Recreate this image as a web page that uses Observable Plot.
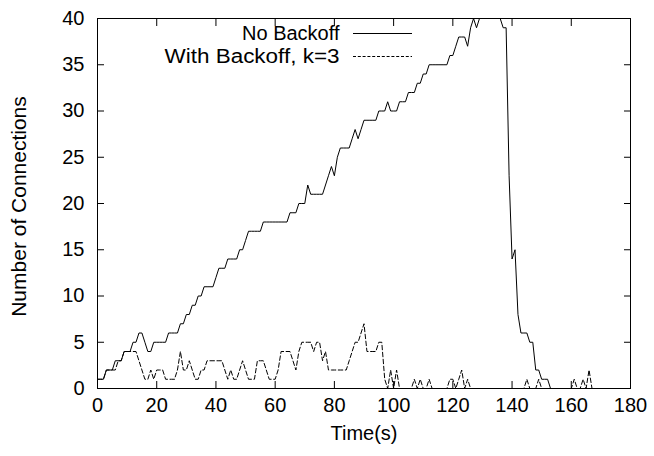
<!DOCTYPE html>
<html><head><meta charset="utf-8">
<script src="https://cdn.jsdelivr.net/npm/d3@7"></script>
<script src="https://cdn.jsdelivr.net/npm/@observablehq/plot@0.6"></script>
<style>html,body{margin:0;padding:0;background:#fff}</style>
</head><body><div id="chart"></div>
<script>
// Number of connections sampled once per second (index = time in s)
const noBackoff = [
  1,1,1,2,2,2,3,3,3,4, 4,4,5,5,6,6,5,4,4,5,
  5,5,5,5,6,6,6,6,7,7, 8,8,9,9,10,10,11,11,11,11,
  12,13,13,13,14,14,14,14,15,15, 16,17,17,17,17,17,18,18,18,18,
  18,18,18,18,18,19,19,19,20,20, 20,22,21,21,21,21,21,22,23,24,
  23,25,26,26,26,26,27,28,27,28, 29,29,29,29,29,30,30,30,31,30,
  30,30,31,31,31,32,32,32,33,33, 34,34,35,35,35,35,35,35,35,36,
  36,37,38,38,38,37,39,40,39,40, 40,40,40,40,40,40,40,39,39,23,
  14,15,8,6,6,6,5,5,2,2, 1,1,1,0
];
const withBackoff = [
  1,1,1,2,2,2,2,3,3,4, 4,4,4,4,3,2,1,1,2,1,
  2,2,2,1,1,1,1,2,4,2, 2,3,2,1,1,2,2,3,3,3,
  3,3,3,2,1,2,1,1,2,3, 2,1,1,1,3,3,3,2,1,1,
  1,2,4,4,4,4,3,2,4,5, 5,5,5,4,5,5,3,4,2,2,
  2,2,2,2,2,3,4,5,5,6, 7,4,4,4,4,5,5,1,0,2,
  0,2,0,0,0,0,0,1,0,1, 0,0,1,0,0,0,0,0,0,1,
  1,0,1,2,0,1,0,0,0,0, 0,0,0,0,0,0,0,0,0,0,
  0,0,0,0,0,1,0,0,0,1, 0,0,0,0,0,0,0,0,0,0,
  0,1,0,0,1,0,2,0,0
];
const seriesNames = ["No Backoff", "With Backoff, k=3"];
const xTicks = [0,20,40,60,80,100,120,140,160,180];
const yTicks = [0,5,10,15,20,25,30,35,40];
const xDomain = [0,180];
const yDomain = [0,40];
const xLabel = "Time(s)";
const yLabel = "Number of Connections";

const noData = noBackoff.map((v,i)=>({t:i, v}));
const withData = withBackoff.map((v,i)=>({t:i, v}));

const font = "'Liberation Sans', Arial, Helvetica, sans-serif";
const fs = 20;
const chart = Plot.plot({
  width: 654, height: 456,
  marginLeft: 97, marginRight: 24, marginTop: 18, marginBottom: 68,
  style: {fontFamily: font, fontSize: fs + "px", color: "#000", background: "#fff", overflow: "visible"},
  x: {domain: xDomain},
  y: {domain: yDomain},
  marks: [
    Plot.line(noData, {x:"t", y:"v", stroke:"#000", strokeWidth:1}),
    Plot.line(withData, {x:"t", y:"v", stroke:"#000", strokeWidth:1, strokeDasharray:"4.5,2.5"}),
    Plot.frame({stroke:"#000", strokeWidth:1}),
    Plot.axisX(xTicks, {anchor:"bottom", tickSize:0, tickPadding:9, label:null, fontSize:fs}),
    Plot.axisX(xTicks, {anchor:"bottom", tickSize:-7, text:null, label:null}),
    Plot.axisX(xTicks, {anchor:"top", tickSize:-7, text:null, label:null}),
    Plot.axisY(yTicks, {anchor:"left", tickSize:0, tickPadding:13, label:null, fontSize:fs}),
    Plot.axisY(yTicks, {anchor:"left", tickSize:-7, text:null, label:null}),
    Plot.axisY(yTicks, {anchor:"right", tickSize:-7, text:null, label:null}),
    Plot.text([xLabel], {frameAnchor:"bottom", dy:45, lineAnchor:"middle", textAnchor:"middle", fontSize:fs}),
    Plot.text([yLabel], {frameAnchor:"left", rotate:-90, dx:-78, dy:3, textAnchor:"middle", lineAnchor:"middle", fontSize:21}),
    // legend
    Plot.text([seriesNames[0]], {frameAnchor:"top-left", dx:242, dy:15, textAnchor:"end", lineAnchor:"middle", fontSize:fs}),
    Plot.text([seriesNames[1]], {frameAnchor:"top-left", dx:242, dy:38, textAnchor:"end", lineAnchor:"middle", fontSize:fs}),
    Plot.ruleY([yDomain[1]], {dy:15, insetLeft:256, insetRight:218, stroke:"#000", strokeWidth:1}),
    Plot.ruleY([yDomain[1]], {dy:38, insetLeft:256, insetRight:218, stroke:"#000", strokeWidth:1, strokeDasharray:"3,1.8"})
  ]
});
document.getElementById("chart").appendChild(chart);
// widen the second legend entry to the reference's extent
d3.select(chart).selectAll("text").filter(function(){ return this.textContent === seriesNames[1]; })
  .attr("textLength", 175).attr("lengthAdjust", "spacingAndGlyphs");
</script>
</body></html>
